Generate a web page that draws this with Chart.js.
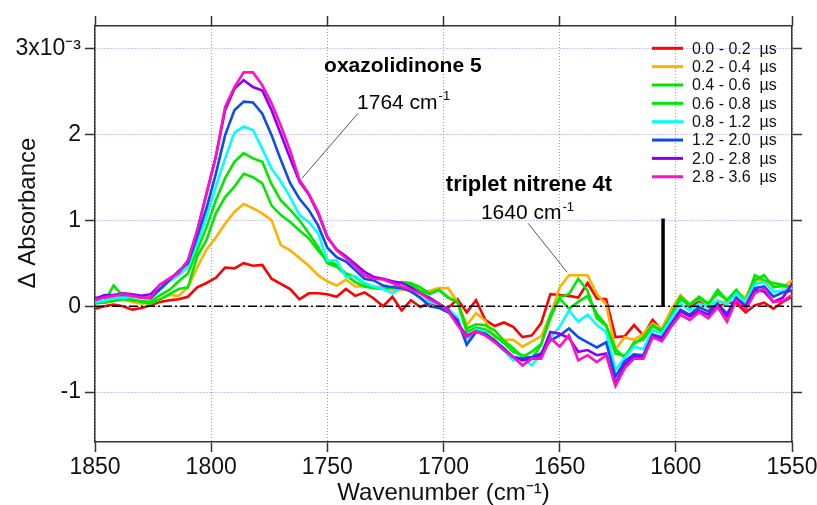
<!DOCTYPE html>
<html><head><meta charset="utf-8">
<script src="https://cdn.jsdelivr.net/npm/chart.js@4"></script>
<style>html,body{margin:0;padding:0;background:#fff}#wrap{width:817px;height:505px;position:relative}</style>
</head><body><div id="wrap"><canvas id="c"></canvas></div>
<script>
// Wavenumber grid (cm^-1)
const wavenumbers = [1850,1846,1842,1838,1834,1830,1826,1822,1818,1814,1810,1806,1802,1798,1794,1790,1786,1782,1778,1774,1770,1766,1762,1758,1754,1750,1746,1742,1738,1734,1730,1726,1722,1718,1714,1710,1706,1702,1698,1694,1690,1686,1682,1678,1674,1670,1666,1662,1658,1654,1650,1646,1642,1638,1634,1630,1626,1622,1618,1614,1610,1606,1602,1598,1594,1590,1586,1582,1578,1574,1570,1566,1562,1558,1554,1550];

// Delta absorbance in units of 1e-3
const s_00_02 = [-0.03,0.00,0.02,0.00,-0.04,-0.02,0.01,0.05,0.07,0.08, 0.11,0.22,0.27,0.33,0.45,0.44,0.50,0.47,0.48,0.32, 0.26,0.20,0.08,0.15,0.15,0.14,0.11,0.20,0.12,0.16, 0.09,0.00,0.11,-0.05,0.07,-0.01,0.04,0.00,-0.02,0.08, -0.07,0.07,-0.16,-0.23,-0.19,-0.24,-0.36,-0.34,-0.20,0.14, 0.13,0.12,0.10,0.27,0.09,0.08,-0.36,-0.35,-0.22,-0.34, -0.16,-0.28,-0.07,0.11,-0.01,0.05,-0.01,0.00,0.04,0.04, -0.07,0.01,0.04,-0.03,0.05,0.11];
const s_02_04 = [0.05,0.04,0.06,0.08,0.05,0.03,0.04,0.08,0.13,0.12, 0.22,0.45,0.66,0.80,0.96,1.10,1.19,1.14,1.08,1.00, 0.71,0.65,0.56,0.47,0.36,0.29,0.24,0.31,0.23,0.23, 0.23,0.22,0.19,0.19,0.20,0.15,0.18,0.21,0.21,0.05, -0.22,-0.08,-0.17,-0.37,-0.39,-0.39,-0.47,-0.41,-0.35,-0.10, 0.22,0.36,0.36,0.36,0.14,0.02,-0.50,-0.36,-0.39,-0.32, -0.20,-0.26,-0.04,0.13,0.02,0.09,0.02,0.05,0.05,0.17, 0.10,0.32,0.28,0.24,0.22,0.30];
const s_04_06 = [0.03,0.05,0.24,0.12,0.08,0.05,0.03,0.08,0.14,0.20, 0.22,0.58,0.77,1.08,1.27,1.39,1.54,1.50,1.43,1.17, 1.06,0.98,0.88,0.79,0.65,0.53,0.48,0.38,0.34,0.26, 0.22,0.20,0.22,0.28,0.25,0.18,0.14,0.19,0.10,0.05, -0.30,-0.25,-0.27,-0.34,-0.43,-0.53,-0.57,-0.61,-0.45,-0.10, 0.09,-0.03,0.05,0.12,-0.09,-0.22,-0.50,-0.60,-0.42,-0.39, -0.23,-0.28,-0.12,0.08,0.01,0.09,0.03,0.15,0.07,0.17, 0.03,0.30,0.36,0.22,0.24,0.20];
const s_06_08 = [0.05,0.04,0.06,0.08,0.07,0.06,0.05,0.13,0.19,0.29, 0.38,0.65,0.92,1.23,1.49,1.68,1.78,1.72,1.68,1.42, 1.23,1.12,1.00,0.85,0.69,0.50,0.46,0.36,0.28,0.23, 0.21,0.20,0.22,0.28,0.27,0.22,0.15,0.19,0.10,0.05, -0.26,-0.21,-0.22,-0.28,-0.40,-0.49,-0.59,-0.53,-0.44,-0.14, 0.11,0.14,0.32,0.18,-0.14,-0.23,-0.55,-0.58,-0.44,-0.36, -0.22,-0.30,-0.10,0.11,0.02,0.11,0.03,0.19,0.07,0.19, 0.05,0.36,0.30,0.27,0.25,0.22];
const s_08_12 = [0.05,0.06,0.10,0.10,0.11,0.10,0.10,0.19,0.29,0.36, 0.46,0.73,1.04,1.39,1.72,2.02,2.09,2.05,1.83,1.60, 1.45,1.27,1.06,0.98,0.85,0.53,0.53,0.34,0.35,0.27, 0.23,0.20,0.15,0.22,0.19,0.09,0.05,0.02,-0.03,-0.13, -0.43,-0.27,-0.30,-0.40,-0.51,-0.63,-0.60,-0.69,-0.55,-0.36, -0.24,-0.05,-0.18,-0.10,-0.22,-0.30,-0.74,-0.60,-0.47,-0.50, -0.28,-0.32,-0.14,0.03,-0.05,0.03,0.00,0.07,0.02,0.15, 0.05,0.26,0.28,0.17,0.18,0.22];
const s_12_20 = [0.08,0.13,0.13,0.13,0.13,0.10,0.09,0.20,0.30,0.41, 0.50,0.81,1.14,1.54,1.99,2.28,2.38,2.37,2.24,1.99, 1.70,1.43,1.25,1.12,0.94,0.68,0.57,0.52,0.42,0.32, 0.30,0.24,0.22,0.21,0.17,0.10,0.00,-0.02,-0.07,-0.16, -0.45,-0.30,-0.32,-0.40,-0.49,-0.59,-0.61,-0.59,-0.55,-0.40, -0.34,-0.26,-0.36,-0.42,-0.48,-0.42,-0.82,-0.64,-0.56,-0.57, -0.33,-0.36,-0.20,-0.04,-0.10,-0.01,-0.06,0.03,-0.09,0.10, 0.00,0.21,0.23,0.11,0.16,0.18];
const s_20_28 = [0.09,0.12,0.13,0.15,0.14,0.12,0.14,0.25,0.32,0.39, 0.53,0.88,1.31,1.74,2.28,2.53,2.63,2.55,2.51,2.28, 2.00,1.72,1.45,1.30,1.08,0.80,0.66,0.58,0.49,0.40, 0.34,0.32,0.29,0.27,0.22,0.15,0.10,0.03,-0.04,-0.20, -0.34,-0.29,-0.34,-0.41,-0.51,-0.59,-0.63,-0.61,-0.57,-0.30, -0.32,-0.37,-0.53,-0.51,-0.57,-0.55,-0.90,-0.68,-0.59,-0.59, -0.34,-0.38,-0.22,-0.06,-0.12,-0.05,-0.10,0.00,-0.12,0.08, -0.01,0.19,0.17,0.05,0.10,0.26];
const s_28_36 = [0.07,0.10,0.12,0.14,0.12,0.10,0.10,0.25,0.32,0.39, 0.53,0.88,1.31,1.74,2.32,2.55,2.72,2.72,2.57,2.36, 2.10,1.81,1.47,1.31,1.10,0.81,0.65,0.56,0.46,0.36, 0.32,0.31,0.27,0.23,0.19,0.15,0.08,0.03,-0.06,-0.22, -0.36,-0.29,-0.34,-0.42,-0.51,-0.59,-0.69,-0.61,-0.61,-0.37, -0.47,-0.34,-0.63,-0.57,-0.65,-0.57,-0.93,-0.72,-0.61,-0.61, -0.36,-0.41,-0.24,-0.10,-0.16,-0.07,-0.14,-0.01,-0.18,0.07, -0.04,0.15,0.21,0.05,0.06,0.13];

const seriesLabels = ['0.0 - 0.2  µs','0.2 - 0.4  µs','0.4 - 0.6  µs','0.6 - 0.8  µs','0.8 - 1.2  µs','1.2 - 2.0  µs','2.0 - 2.8  µs','2.8 - 3.6  µs'];
const seriesValues = [s_00_02,s_02_04,s_04_06,s_06_08,s_08_12,s_12_20,s_20_28,s_28_36];
const seriesColors = ['#ff0000','#ffb000','#00e800','#00e800','#00ffff','#0a4cf0','#8a00f0','#ff10c8'];

const xTicks = [1850,1800,1750,1700,1650,1600,1550];
const yTicks = [-1,0,1,2,3];
const zeroLine = [[1850,0],[1550,0]];
const scaleBar = [[1605.5,0],[1605.5,1.02]];

const datasets = seriesValues.map((vals,i)=>({
  label: seriesLabels[i],
  data: wavenumbers.map((w,j)=>({x:w,y:vals[j]})),
  borderColor: seriesColors[i], backgroundColor: seriesColors[i],
  borderWidth: 2.6, pointRadius: 0, tension: 0, fill:false,
  order: 7 - i
}));
datasets.push({label:'_zero', data: zeroLine.map(p=>({x:p[0],y:p[1]})), borderColor:'#000', borderWidth:1.4, borderDash:[9,3,2,3], pointRadius:0, order:-1});
datasets.push({label:'_bar', data: scaleBar.map(p=>({x:p[0],y:p[1]})), borderColor:'#000', borderWidth:3.5, pointRadius:0, order:-2, borderCapStyle:'butt'});

const AX = '#333';
const GRID = 'rgba(110,110,255,0.75)';
const FONT = '"Liberation Sans", Arial, sans-serif';

function drawSup(ctx, x, y, base, sup, size, bold){
  ctx.font = (bold?'bold ':'') + size + 'px ' + FONT;
  ctx.fillText(base, x, y);
  const w = ctx.measureText(base).width;
  if (sup){
    ctx.font = Math.round(size*0.62) + 'px ' + FONT;
    ctx.fillText(sup, x + w + 1, y - size*0.42);
  }
}

const overlay = {
  id:'overlay',
  afterDraw(chart){
    const ctx = chart.ctx, xs = chart.scales.x, ys = chart.scales.y;
    const P = (w,v)=>[xs.getPixelForValue(w), ys.getPixelForValue(v)];
    ctx.save();
    // y axis title
    ctx.save();
    ctx.translate(28, 213); ctx.rotate(-Math.PI/2);
    ctx.fillStyle = '#111'; ctx.font = '24px ' + FONT; ctx.textAlign = 'center'; ctx.textBaseline = 'middle';
    ctx.fillText('Δ Absorbance', 0, 0);
    ctx.restore();
    // leader lines
    ctx.strokeStyle = '#555'; ctx.lineWidth = 1;
    let a = P(1736.8,2.244), b = P(1760.9,1.488);
    ctx.beginPath(); ctx.moveTo(a[0],a[1]); ctx.lineTo(b[0],b[1]); ctx.stroke();
    a = P(1663.6,0.965); b = P(1646.8,0.395);
    ctx.beginPath(); ctx.moveTo(a[0],a[1]); ctx.lineTo(b[0],b[1]); ctx.stroke();
    // annotation texts
    ctx.fillStyle = '#000'; ctx.textBaseline = 'alphabetic'; ctx.textAlign = 'left';
    let p = P(1751.4,2.72); drawSup(ctx,p[0],p[1],'oxazolidinone 5',null,21,true);
    p = P(1737.2,2.30); drawSup(ctx,p[0],p[1],'1764 cm','-1',21,false);
    p = P(1699.0,1.337); drawSup(ctx,p[0],p[1],'triplet nitrene 4t',null,22,true);
    p = P(1683.9,1.01); drawSup(ctx,p[0],p[1],'1640 cm','-1',21,false);
    // legend
    const x0 = 652, x1 = 683, tx = 692, y0 = 48.3, dy = 18.35;
    ctx.textBaseline = 'middle';
    ctx.font = '16px ' + FONT;
    seriesLabels.forEach((lab,i)=>{
      const yy = y0 + i*dy;
      ctx.strokeStyle = seriesColors[i]; ctx.lineWidth = 3;
      ctx.beginPath(); ctx.moveTo(x0,yy); ctx.lineTo(x1,yy); ctx.stroke();
      ctx.fillStyle = '#111'; ctx.fillText(lab, tx, yy+1);
    });
    ctx.restore();
  }
};

function noPad(s){ s.paddingLeft = 0; s.paddingRight = 0; s.paddingTop = 0; s.paddingBottom = 0; }
const tickFont = {family: FONT, size: 23};
new Chart(document.getElementById('c'), {
  type:'line',
  data:{datasets},
  options:{
    responsive:true, maintainAspectRatio:false, animation:false,
    layout:{padding:0},
    plugins:{legend:{display:false}, tooltip:{enabled:false}},
    scales:{
      x:{type:'linear', position:'bottom', reverse:true, min:1550, max:1850,
        afterBuildTicks: s=>{ s.ticks = xTicks.map(v=>({value:v})); },
        afterFit: s=>{ s.height = 63; noPad(s); },
        ticks:{font:tickFont, color:'#111', padding:2, autoSkip:false, maxRotation:0, includeBounds:false,
          callback: v => String(v)},
        grid:{color:GRID, lineWidth:1, tickLength:10, tickColor:AX, tickWidth:1.5},
        border:{display:true, color:AX, width:1.5, dash:[1,2]},
        title:{display:true, text:'Wavenumber (cm⁻¹)', font:{family:FONT, size:24}, color:'#111', padding:{top:0,bottom:-3}}
      },
      x2:{type:'linear', position:'top', reverse:true, min:1550, max:1850,
        afterBuildTicks: s=>{ s.ticks = xTicks.map(v=>({value:v})); },
        afterFit: s=>{ s.height = 26; noPad(s); },
        ticks:{display:false},
        grid:{drawOnChartArea:false, tickLength:10, tickColor:AX, tickWidth:1.5},
        border:{display:true, color:AX, width:1.5}
      },
      y:{type:'linear', position:'left', min:-1.58, max:3.26,
        afterBuildTicks: s=>{ s.ticks = yTicks.map(v=>({value:v})); },
        afterFit: s=>{ s.width = 95; noPad(s); },
        ticks:{font:tickFont, color:'#111', padding:4, includeBounds:false,
          callback: v => v===3 ? '3x10⁻³' : String(v)},
        grid:{color:GRID, lineWidth:1, tickLength:10, tickColor:AX, tickWidth:1.5},
        border:{display:true, color:AX, width:1.5, dash:[1,2]}
      },
      y2:{type:'linear', position:'right', min:-1.58, max:3.26,
        afterBuildTicks: s=>{ s.ticks = yTicks.map(v=>({value:v})); },
        afterFit: s=>{ s.width = 25; noPad(s); },
        ticks:{display:false},
        grid:{drawOnChartArea:false, tickLength:10, tickColor:AX, tickWidth:1.5},
        border:{display:true, color:AX, width:1.5}
      }
    }
  },
  plugins:[overlay]
});
</script></body></html>
